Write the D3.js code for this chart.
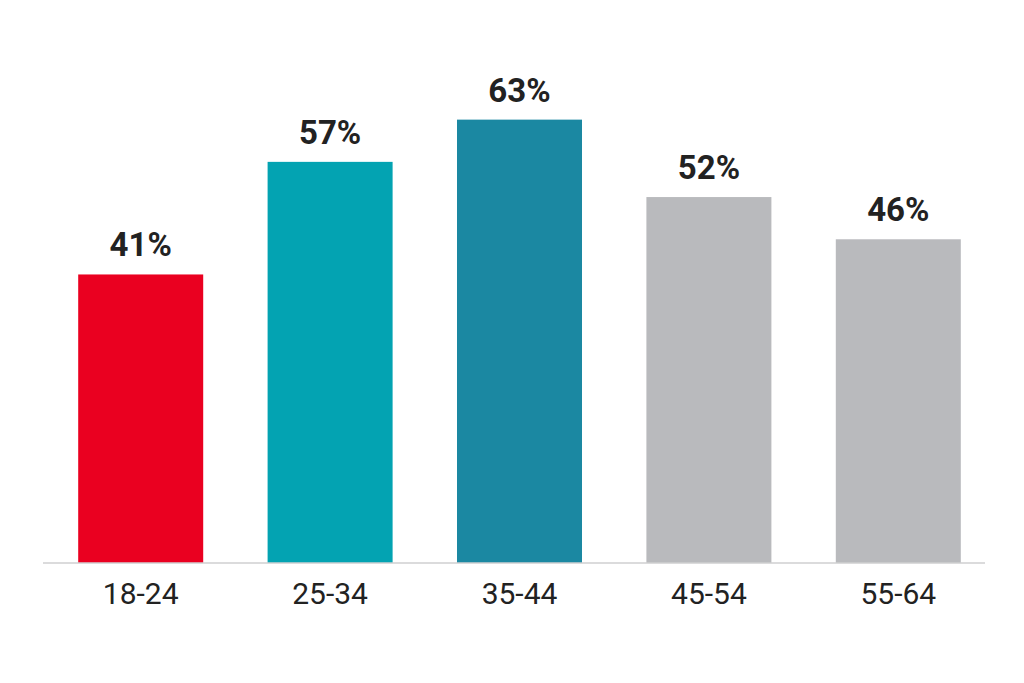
<!DOCTYPE html>
<html>
<head>
<meta charset="utf-8">
<script src="https://cdn.jsdelivr.net/npm/d3@7"></script>
<style>
  html, body { margin: 0; padding: 0; background: #fff; }
  svg { display: block; }
</style>
</head>
<body>
<div id="chart"></div>
<script>
// 데이터
const categories = ['18-24', '25-34', '35-44', '45-54', '55-64'];
const values = [41, 57, 63, 52, 46];
const barColors = ['#ea0020', '#03a3b2', '#1b88a2', '#b9babd', '#b9babd'];

const width = 1024;
const height = 683;
const baseY = 563;

const svg = d3.select('#chart')
    .append('svg')
    .attr('width', width)
    .attr('height', height);

// 스케일
const x = d3.scaleBand()
    .domain(categories)
    .range([46, 993])
    .paddingInner(0.34)
    .paddingOuter(0.17);

const y = d3.scaleLinear()
    .domain([0, 80])
    .range([baseY, 0]);

// 막대
svg.selectAll('.bar')
    .data(values)
    .enter()
    .append('rect')
    .attr('class', 'bar')
    .attr('x', (d, i) => x(categories[i]))
    .attr('y', d => y(d))
    .attr('width', x.bandwidth())
    .attr('height', d => y(0) - y(d))
    .attr('fill', (d, i) => barColors[i]);

// 값 라벨
svg.selectAll('.value')
    .data(values)
    .enter()
    .append('text')
    .attr('class', 'value')
    .attr('x', (d, i) => x(categories[i]) + x.bandwidth() / 2)
    .attr('y', d => y(d) - 18)
    .attr('text-anchor', 'middle')
    .style('font-family', 'Roboto, sans-serif')
    .style('font-weight', '700')
    .style('font-size', '33px')
    .style('fill', '#222')
    .text(d => d + '%');

// x축
const axis = svg.append('g')
    .attr('transform', `translate(0,${baseY})`)
    .call(d3.axisBottom(x).tickSize(0).tickPadding(20));

axis.select('.domain').remove();
axis.append('line')
    .attr('x1', 43)
    .attr('x2', 985)
    .attr('stroke', '#cfcfd1')
    .attr('stroke-width', 1.5);

axis.selectAll('.tick text')
    .style('font-family', 'Roboto, sans-serif')
    .style('font-size', '30px')
    .style('fill', '#222');
</script>
</body>
</html>
